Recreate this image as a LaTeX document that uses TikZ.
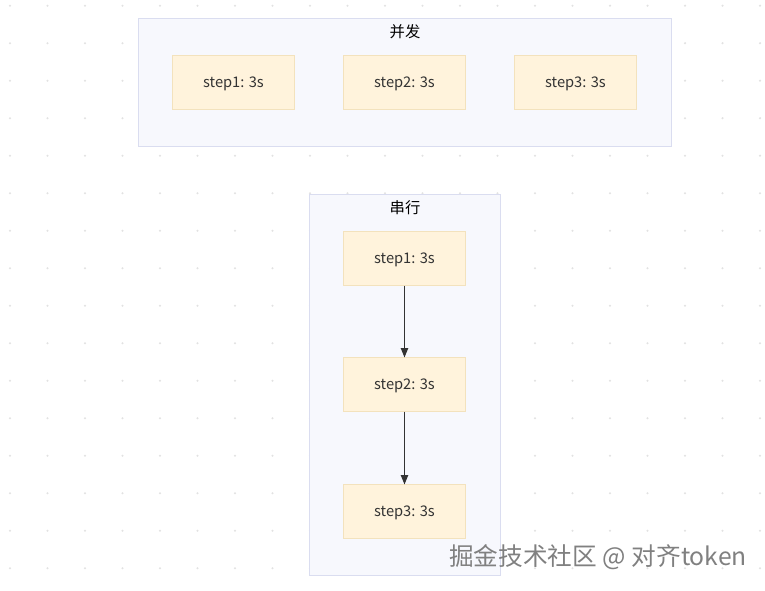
\documentclass[tikz,border=0pt]{standalone}
\usepackage{fontspec}
\setmainfont{Noto Sans CJK SC}
\usetikzlibrary{arrows.meta}

\definecolor{stepfill}{HTML}{FFF3DC}
\definecolor{stepline}{HTML}{F3E2BD}
\definecolor{groupfill}{HTML}{F7F8FD}
\definecolor{groupline}{HTML}{DADDF0}
\definecolor{dotgray}{HTML}{E2E2E2}

\tikzset{
	stepbox/.style = {draw=stepline, fill=stepfill, line width=0.6pt, minimum width=92pt, minimum height=40pt, inner sep=0pt, text height=1.6ex, text depth=0.3ex, font=\fontsize{11}{13}\selectfont, text=black!80},
	groupbox/.style = {draw=groupline, fill=groupfill, line width=0.6pt},
	grouptitle/.style = {font=\fontsize{11.5}{14}\selectfont},
	>={Triangle[length=7pt,width=5.5pt]}
}

\begin{document}
\begin{tikzpicture}[x=0.75pt,y=-0.75pt]
	\useasboundingbox[fill=white] (0,0) rectangle (765,590);
	% dot grid
	\foreach \i in {0,...,20}
		\foreach \j in {0,...,15}
			\fill[dotgray] (10+37.5*\i,5.7+37.5*\j) circle (0.9pt);

	% 并发
	\draw[groupbox] (138,18) rectangle (671,146);
	\node[grouptitle] (bingfa) at (405,32) {并发};
	\node[stepbox] (p1) at (233.5,82.5) {step1: 3s};
	\node[stepbox] (p2) at (404.5,82.5) {step2: 3s};
	\node[stepbox] (p3) at (575.5,82.5) {step3: 3s};

	% 串行
	\draw[groupbox] (309,194) rectangle (500,575);
	\node[grouptitle] (chuanxing) at (405,208) {串行};
	\node[stepbox] (s1) at (404.5,258.5) {step1: 3s};
	\node[stepbox] (s2) at (404.5,384.5) {step2: 3s};
	\node[stepbox] (s3) at (404.5,511.5) {step3: 3s};

	\draw[->, black!80, line width=0.8pt] (s1) -- (s2);
	\draw[->, black!80, line width=0.8pt] (s2) -- (s3);

	\node[text=black!50, font=\fontsize{18.5}{22}\selectfont, inner sep=0pt] (mark) at (598,557) {掘金技术社区 @ 对齐token};
\end{tikzpicture}
\end{document}
